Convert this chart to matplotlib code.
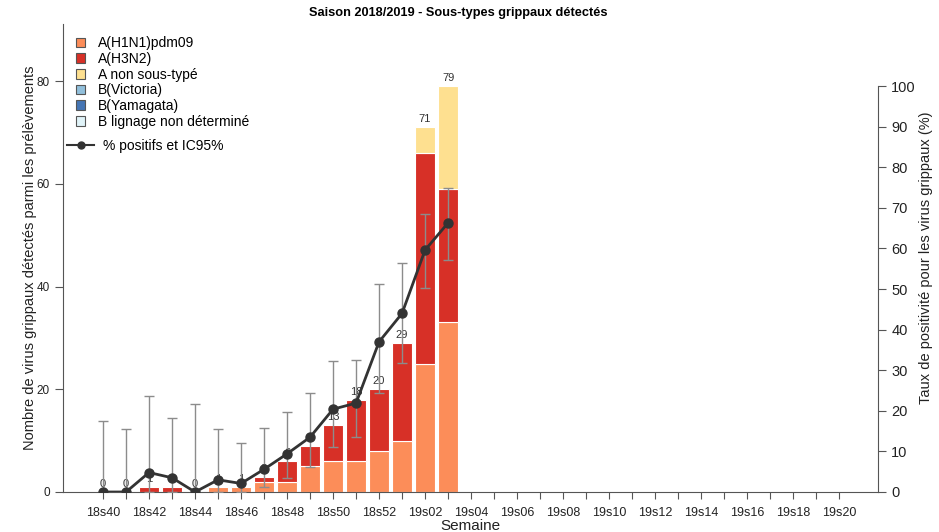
import numpy as np
import matplotlib
matplotlib.use("Agg")
import matplotlib.pyplot as plt
from matplotlib.patches import Patch
from matplotlib.lines import Line2D

plt.rcParams["font.family"] = ["Liberation Sans", "DejaVu Sans"]

# -------------------------------------------------------
# Données
# -------------------------------------------------------
semaines = ["18s%02d" % w for w in range(40, 53)] + ["19s%02d" % w for w in range(1, 21)]

h1n1 = [0, 0, 0, 0, 0, 1, 1, 2, 2, 5, 6, 6, 8, 10, 25, 33]
h3n2 = [0, 0, 1, 1, 0, 0, 0, 1, 4, 4, 7, 12, 12, 19, 41, 26]
a_nst = [0, 0, 0, 0, 0, 0, 0, 0, 0, 0, 0, 0, 0, 0, 5, 20]
b_vic = [0] * 16
b_yam = [0] * 16
b_nd = [0] * 16

pct = [0, 0, 4.8, 3.5, 0, 3.0, 2.1, 5.6, 9.4, 13.5, 20.4, 21.9, 37.0, 44.0, 59.6, 66.3]
ic_bas = [0, 0, 0.1, 0.1, 0, 0.1, 0.1, 1.2, 3.4, 6.2, 11.1, 13.6, 24.3, 31.8, 50.3, 57.1]
ic_haut = [17.5, 15.5, 23.7, 18.3, 21.6, 15.6, 12.0, 15.8, 19.6, 24.3, 32.3, 32.4, 51.2, 56.4, 68.5, 74.8]

series = [
    ("A(H1N1)pdm09", h1n1, "#fc8d59"),
    ("A(H3N2)", h3n2, "#d73027"),
    ("A non sous-typé", a_nst, "#fee090"),
    ("B(Victoria)", b_vic, "#91bfdb"),
    ("B(Yamagata)", b_yam, "#4575b4"),
    ("B lignage non déterminé", b_nd, "#e0f3f8"),
]

# -------------------------------------------------------
# Figure
# -------------------------------------------------------
axc = "#555555"
txt = "#222222"
fig = plt.figure(figsize=(9.39, 5.32), dpi=100)
ax = fig.add_axes([0.0671, 0.0752, 0.8679, 0.8797])
ax2 = ax.twinx()

x = np.arange(len(h1n1))
bottom = np.zeros(len(x))
for nom, vals, col in series:
    v = np.array(vals, dtype=float)
    m = v > 0
    if m.any():
        ax.bar(x[m], v[m], bottom=bottom[m], width=0.88, color=col,
               edgecolor="white", linewidth=0.8, zorder=2)
    bottom += v

for xi, tot in zip(x, bottom):
    ax.annotate("%d" % tot, (xi, tot), xytext=(0, 2), textcoords="offset points",
                ha="center", va="bottom", fontsize=8, color="#333333", zorder=3)

ax.set_xlim(-1.74, 33.69)
ax.set_ylim(0, 91.1)
ax.set_yticks([0, 20, 40, 60, 80])
ax.set_xticks(np.arange(len(semaines)))
ax.set_xticklabels([s if i % 2 == 0 else "" for i, s in enumerate(semaines)])
ax.tick_params(axis="x", labelsize=9, length=5, colors=axc, labelcolor=txt, pad=6)
ax.tick_params(axis="y", labelsize=8.5, length=6, colors=axc, labelcolor=txt)
ax.set_xlabel("Semaine", fontsize=11, color=txt, labelpad=0)
ax.set_ylabel("Nombre de virus grippaux détectés parmi les prélèvements",
              fontsize=10.5, color=txt, labelpad=0)

# taux de positivité + IC95
yerr = [np.array(pct) - np.array(ic_bas), np.array(ic_haut) - np.array(pct)]
ax2.errorbar(x, pct, yerr=yerr, fmt="none", ecolor="#8c8c8c", elinewidth=1,
             capsize=3.5, capthick=1, zorder=3)
ax2.plot(x, pct, color="#333333", lw=2, marker="o", ms=6.5, zorder=4)
ax2.set_ylim(0, 115.3)
ax2.set_yticks(np.arange(0, 101, 10))
ax2.tick_params(axis="y", labelsize=10.5, length=6, colors=axc, labelcolor=txt)
ax2.set_ylabel("Taux de positivité pour les virus grippaux (%)", fontsize=10.5,
               color=txt, labelpad=2)

for a in (ax, ax2):
    a.spines["top"].set_visible(False)
    for s in ("left", "right", "bottom"):
        a.spines[s].set_color(axc)
ax.spines["right"].set_visible(False)
ax2.spines["left"].set_visible(False)
ax2.spines["bottom"].set_visible(False)
ax2.spines["right"].set_bounds(0, 100)

fig.text(458 / 939, 1 - 13 / 532, "Saison 2018/2019 - Sous-types grippaux détectés",
         fontsize=9.2, fontweight="bold", ha="center", va="center")

# légendes
handles = [Patch(facecolor=c, edgecolor="#555555", linewidth=0.8, label=n) for n, _, c in series]
leg1 = ax2.legend(handles=handles, loc="upper left", bbox_to_anchor=(0.0, 1.0),
                  frameon=False, fontsize=10, handlelength=0.7, handleheight=0.7,
                  handletextpad=0.9, labelspacing=0.12, borderaxespad=0.5)
ax2.add_artist(leg1)
lh = Line2D([], [], color="#333333", lw=1.5, marker="o", ms=5)
ax2.legend(handles=[lh], labels=["% positifs et IC95%"], loc="upper left",
           bbox_to_anchor=(-0.01, 0.782), frameon=False, fontsize=10,
           handlelength=1.9, handletextpad=0.7)

fig.savefig("out.png", dpi=100)
